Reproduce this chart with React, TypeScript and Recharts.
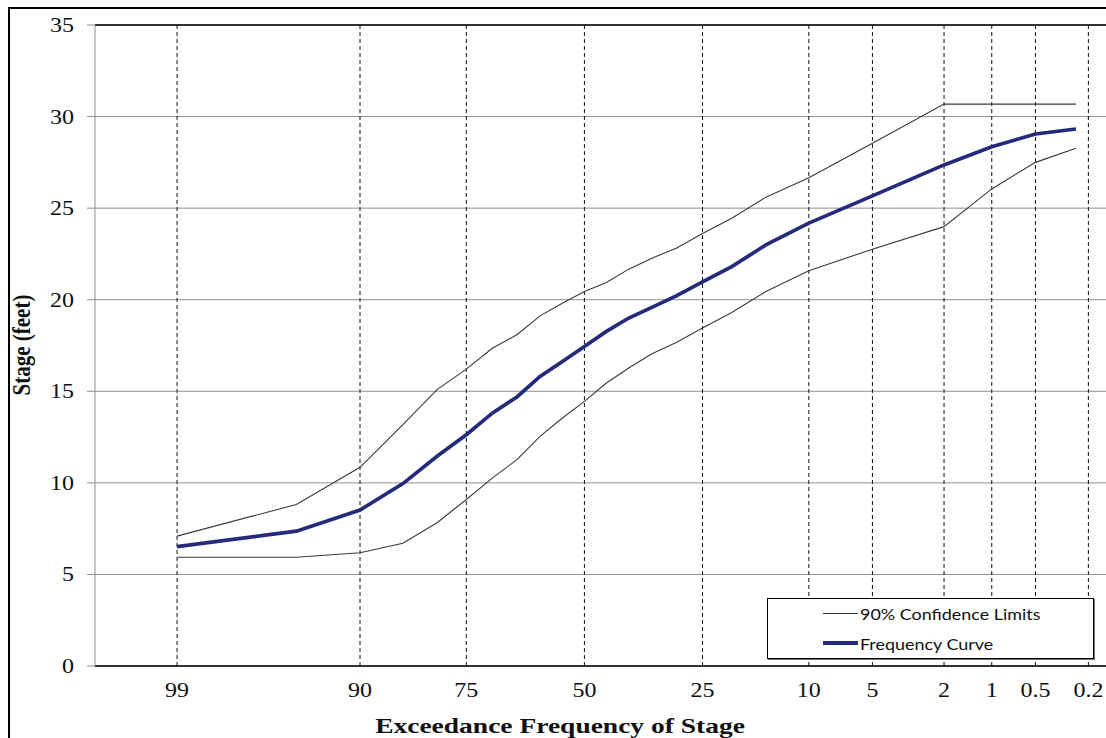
import { LineChart, Line, XAxis, YAxis, CartesianGrid, ReferenceLine } from 'recharts';

// exceedance frequency (%) of each computed point
const exceedance = [99, 95, 90, 85, 80, 75, 70, 65, 60, 55, 50, 45, 40, 35, 30, 25, 20, 15, 10, 5, 2, 1, 0.5, 0.25];
// stage (feet)
const frequencyCurve = [6.52, 7.36, 8.52, 9.96, 11.45, 12.63, 13.82, 14.69, 15.81, 16.63, 17.45, 18.27, 19.0, 19.58, 20.21, 20.98, 21.81, 22.99, 24.18, 25.67, 27.36, 28.35, 29.05, 29.32];
const upperLimit = [7.09, 8.82, 10.85, 13.18, 15.09, 16.21, 17.36, 18.09, 19.12, 19.81, 20.45, 20.94, 21.67, 22.27, 22.81, 23.62, 24.45, 25.6, 26.66, 28.54, 30.68, 30.68, 30.68, 30.68];
const lowerLimit = [5.94, 5.94, 6.18, 6.7, 7.82, 9.09, 10.27, 11.27, 12.54, 13.54, 14.45, 15.45, 16.27, 17.05, 17.67, 18.45, 19.3, 20.45, 21.58, 22.76, 23.99, 26.05, 27.5, 28.27];

const xTicks = [99, 90, 75, 50, 25, 10, 5, 2, 1, 0.5, 0.2];
const yTicks = [0, 5, 10, 15, 20, 25, 30, 35];

// inverse standard normal (Acklam) for the probability-paper axis
function normInv(p: number) {
  const a = [-39.69683028665376, 220.9460984245205, -275.9285104469687, 138.357751867269, -30.66479806614716, 2.506628277459239];
  const b = [-54.47609879822406, 161.5858368580409, -155.6989798598866, 66.80131188771972, -13.28068155288572];
  const c = [-0.007784894002430293, -0.3223964580411365, -2.400758277161838, -2.549732539343734, 4.374664141464968, 2.938163982698783];
  const d = [0.007784695709041462, 0.3224671290700398, 2.445134137142996, 3.754408661907416];
  const pl = 0.02425;
  if (p < pl) {
    const q = Math.sqrt(-2 * Math.log(p));
    return (((((c[0] * q + c[1]) * q + c[2]) * q + c[3]) * q + c[4]) * q + c[5]) / ((((d[0] * q + d[1]) * q + d[2]) * q + d[3]) * q + 1);
  }
  if (p <= 1 - pl) {
    const q = p - 0.5;
    const r = q * q;
    return ((((((a[0] * r + a[1]) * r + a[2]) * r + a[3]) * r + a[4]) * r + a[5]) * q) / (((((b[0] * r + b[1]) * r + b[2]) * r + b[3]) * r + b[4]) * r + 1);
  }
  const q = Math.sqrt(-2 * Math.log(1 - p));
  return -(((((c[0] * q + c[1]) * q + c[2]) * q + c[3]) * q + c[4]) * q + c[5]) / ((((d[0] * q + d[1]) * q + d[2]) * q + d[3]) * q + 1);
}

const probPos = (pct: number) => normInv(1 - pct / 100);

const data = exceedance.map((p, i) => ({
  pos: probPos(p),
  freq: frequencyCurve[i],
  upper: upperLimit[i],
  lower: lowerLimit[i],
}));

const SERIF = '"Liberation Serif", "Times New Roman", serif';

function XTick({ x, payload }: any) {
  const label = xTicks.find((t) => Math.abs(probPos(t) - payload.value) < 1e-6);
  return (
    <text transform={`translate(${x},688) scale(1.2,1)`} textAnchor="middle" fontFamily={SERIF} fontSize={20} fill="#111">
      {label}
    </text>
  );
}

function YTick({ y, payload }: any) {
  return (
    <text transform={`translate(64,${y}) scale(1.2,1)`} dy="0.35em" textAnchor="end" fontFamily={SERIF} fontSize={20} fill="#111">
      {payload.value}
    </text>
  );
}

function LegendBox() {
  const row = (color: string, width: number, label: string, top: number) => (
    <div style={{ position: 'absolute', left: 55, top, height: 20, display: 'flex', alignItems: 'center' }}>
      <div style={{ width: 35, height: width, background: color }} />
      <span style={{ marginLeft: 2, fontFamily: 'Lato, sans-serif', fontSize: 16, color: '#111', display: 'inline-block', transform: 'scaleX(1.12)', transformOrigin: 'left center', whiteSpace: 'nowrap' }}>
        {label}
      </span>
    </div>
  );
  return (
    <div style={{ position: 'absolute', left: 757, top: 589, width: 327, height: 61, boxSizing: 'border-box', border: '1px solid #000', boxShadow: '1px 1px 0 #777', background: '#fff' }}>
      {row('#333', 1, '90% Confidence Limits', 4)}
      {row('#242a7c', 4, 'Frequency Curve', 34)}
    </div>
  );
}

export default function App() {
  return (
    <div style={{ position: 'absolute', left: 8, top: 7, width: 1098, height: 731, boxSizing: 'border-box', borderTop: '2px solid #000', borderLeft: '2px solid #000', overflow: 'hidden', background: '#fff' }}>
      <LineChart width={1110} height={729} data={data} margin={{ top: 16, right: 8, bottom: 12, left: 0 }}>
        <CartesianGrid vertical={false} stroke="#909090" />
        {xTicks.map((t) => (
          <ReferenceLine key={t} x={probPos(t)} stroke="#111" strokeDasharray="4 3" />
        ))}
        <ReferenceLine y={35} stroke="#000" strokeWidth={1.5} />
        <XAxis
          type="number"
          dataKey="pos"
          domain={[-2.795, 3.013]}
          allowDataOverflow
          ticks={xTicks.map(probPos)}
          tick={<XTick />}
          tickLine={false}
          axisLine={{ stroke: '#000', strokeWidth: 1.5 }}
          height={60}
          interval={0}
          label={{
            content: () => (
              <text transform="translate(550,724) scale(1.25,1)" textAnchor="middle" fontFamily={SERIF} fontWeight="bold" fontSize={22} fill="#111">
                Exceedance Frequency of Stage
              </text>
            ),
          }}
        />
        <YAxis
          type="number"
          domain={[0, 35]}
          ticks={yTicks}
          tick={<YTick />}
          tickSize={8}
          tickLine={{ stroke: '#909090' }}
          axisLine={{ stroke: '#909090' }}
          width={85}
          interval={0}
          label={{
            content: () => (
              <text transform="translate(12,336) rotate(-90) scale(1,1.15)" textAnchor="middle" dy="0.35em" fontFamily={SERIF} fontWeight="bold" fontSize={21} fill="#111">
                Stage (feet)
              </text>
            ),
          }}
        />
        <Line dataKey="upper" stroke="#3a3a3a" strokeWidth={1.1} dot={false} activeDot={false} isAnimationActive={false} />
        <Line dataKey="lower" stroke="#3a3a3a" strokeWidth={1.1} dot={false} activeDot={false} isAnimationActive={false} />
        <Line dataKey="freq" stroke="#242a7c" strokeWidth={3.7} dot={false} activeDot={false} isAnimationActive={false} />
      </LineChart>
      <LegendBox />
    </div>
  );
}
